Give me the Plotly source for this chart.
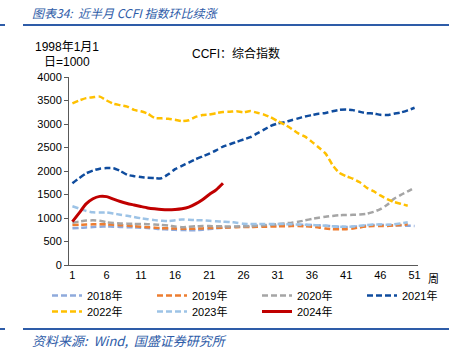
import plotly.graph_objects as go

weeks = list(range(1, 52))

s2018 = [780, 790, 800, 808, 815, 818, 815, 810, 805, 800, 795, 785, 775, 762, 755, 748, 745, 740, 740, 752,
         765, 780, 795, 805, 815, 822, 830, 835, 840, 845, 848, 850, 852, 855, 855, 850, 845, 835, 825, 815,
         810, 815, 825, 840, 850, 855, 850, 845, 840, 835, 830]
s2019 = [850, 855, 860, 865, 868, 865, 858, 848, 838, 825, 815, 805, 795, 785, 780, 775, 770, 770, 772, 778,
         785, 790, 795, 800, 805, 808, 810, 812, 815, 818, 822, 825, 828, 830, 825, 815, 800, 775, 762, 758,
         762, 775, 800, 820, 830, 830, 832, 840, 852, 865]
s2020 = [900, 925, 945, 950, 940, 910, 895, 885, 880, 875, 872, 868, 860, 852, 840, 820, 805, 815, 825, 828,
         828, 825, 822, 820, 818, 820, 825, 835, 845, 858, 870, 885, 900, 920, 950, 980, 1005, 1028, 1045, 1058,
         1064, 1068, 1075, 1090, 1130, 1190, 1280, 1410, 1490, 1565, 1645]
s2021 = [1738, 1850, 1950, 2010, 2050, 2062, 2060, 2000, 1920, 1890, 1870, 1855, 1850, 1845, 1930, 2040, 2110, 2180, 2250, 2310,
         2370, 2440, 2520, 2570, 2620, 2670, 2720, 2800, 2880, 2960, 3010, 3040, 3080, 3120, 3160, 3190, 3220, 3235, 3270, 3300,
         3310, 3295, 3260, 3230, 3225, 3195, 3190, 3220, 3245, 3290, 3345]
s2022 = [3440, 3500, 3550, 3570, 3582, 3500, 3430, 3400, 3370, 3300, 3270, 3220, 3130, 3120, 3110, 3090, 3060, 3080, 3150, 3190,
         3200, 3230, 3255, 3260, 3270, 3250, 3275, 3240, 3200, 3140, 3060, 2990, 2900, 2800, 2730, 2620, 2500, 2370, 2130, 1960,
         1890, 1835, 1760, 1645, 1570, 1480, 1400, 1340, 1300, 1262]
s2023 = [1250, 1200, 1150, 1120, 1115, 1120, 1095, 1070, 1050, 1020, 995, 975, 955, 943, 935, 950, 968, 962, 955, 950,
         940, 930, 922, 915, 900, 880, 872, 870, 872, 872, 872, 870, 865, 860, 855, 850, 845, 835, 825, 815,
         812, 820, 835, 850, 860, 860, 858, 865, 885, 908]
s2024 = [922, 1110, 1300, 1410, 1460, 1455, 1400, 1350, 1310, 1277, 1245, 1215, 1195, 1180, 1175, 1180, 1195, 1230, 1300, 1390,
         1500, 1600, 1740]

x_ticks = [1, 6, 11, 16, 21, 26, 31, 36, 41, 46, 51]

series = [
    ("2018年", s2018, "#8FAADC", "dash", "legend"),
    ("2019年", s2019, "#ED7D31", "dash", "legend"),
    ("2020年", s2020, "#A5A5A5", "dash", "legend"),
    ("2021年", s2021, "#0F4C9E", "dash", "legend"),
    ("2022年", s2022, "#FFC000", "dash", "legend2"),
    ("2023年", s2023, "#9DC3E6", "dash", "legend2"),
    ("2024年", s2024, "#C00000", "solid", "legend2"),
]

fig = go.Figure()
for name, vals, color, dash, lg in series:
    fig.add_trace(go.Scatter(
        x=weeks[:len(vals)], y=vals, name=name, mode="lines", legend=lg,
        line=dict(color=color, width=3 if dash == "solid" else 2.5,
                  dash="6px,3px" if dash == "dash" else "solid", shape="spline", smoothing=0.6),
    ))

L, R, T, B = 69, 418, 77, 265
W, H = 449, 360

def px(x):
    return (x - L) / (R - L)

def py(y):
    return (B - y) / (B - T)

blue = "#2E5CA8"
font_main = "Liberation Sans, Arial, Noto Sans CJK SC, sans-serif"
font_cjk = "Noto Sans CJK SC, sans-serif"

def ann(x, y, text, anchor="left", size=12, color="#000000", family=font_main, style="normal"):
    return dict(x=px(x), y=py(y), xref="paper", yref="paper", text=text, showarrow=False,
                xanchor=anchor, yanchor="middle",
                font=dict(family=family, size=size, color=color, style=style))

anns = [
    ann(30, 12, "图表34:  近半月 CCFI 指数环比续涨", size=12, color=blue, family=font_cjk, style="italic"),
    ann(30, 340, "资料来源:  Wind,  国盛证券研究所", size=13, color=blue, family=font_cjk, style="italic"),
    ann(67, 47, "1998年1月1", anchor="center", size=12),
    ann(67, 62, "日=1000", anchor="center", size=12),
    ann(190, 53, "CCFI：综合指数", size=12),
    ann(426, 279, "周", size=11),
]

shapes = [
    dict(type="line", xref="paper", yref="paper", x0=px(23), x1=px(449), y0=py(25), y1=py(25), line=dict(color=blue, width=2)),
    dict(type="line", xref="paper", yref="paper", x0=px(0), x1=px(5), y0=py(25), y1=py(25), line=dict(color=blue, width=2)),
    dict(type="line", xref="paper", yref="paper", x0=px(23), x1=px(449), y0=py(329), y1=py(329), line=dict(color=blue, width=2)),
    dict(type="line", xref="paper", yref="paper", x0=px(0), x1=px(5), y0=py(329), y1=py(329), line=dict(color=blue, width=2)),
]

legend_common = dict(orientation="h", xanchor="left", yanchor="top",
                     entrywidth=60, entrywidthmode="pixels", font=dict(size=11), traceorder="normal",
                     bgcolor="rgba(0,0,0,0)", itemwidth=30, tracegroupgap=0)

fig.update_layout(
    width=W, height=H,
    margin=dict(l=L, r=W - R, t=T, b=H - B, pad=0, autoexpand=False),
    paper_bgcolor="white", plot_bgcolor="white",
    font=dict(family=font_main, size=11, color="#000000"),
    showlegend=True,
    legend=dict(x=px(47), y=py(281), **legend_common),
    legend2=dict(x=px(47), y=py(297), **legend_common),
    annotations=anns,
    shapes=shapes,
    xaxis=dict(range=[0.5, 51.5], tickmode="array", tickvals=x_ticks, ticktext=[str(t) for t in x_ticks],
               showgrid=False, zeroline=False, showline=True, linecolor="#595959", linewidth=1,
               ticks="", tickfont=dict(size=11)),
    yaxis=dict(range=[0, 4000], dtick=500, showgrid=False, zeroline=False, showline=True,
               linecolor="#595959", linewidth=1, ticks="outside", ticklen=4, tickcolor="#595959",
               tickfont=dict(size=11)),
)

fig.write_html("out.html", config={"displayModeBar": False},
               post_script="document.body.style.margin='0';")
